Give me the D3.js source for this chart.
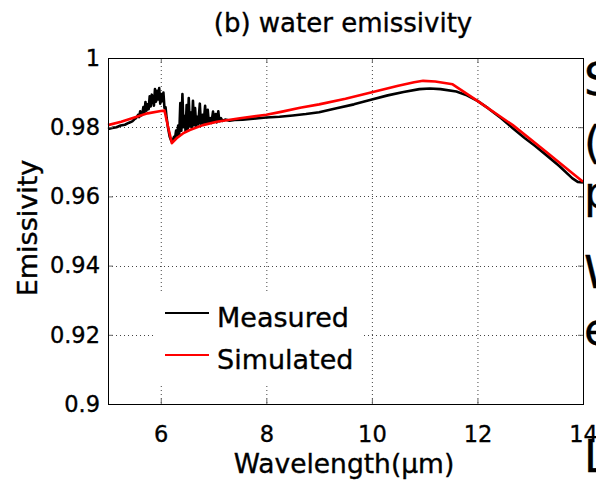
<!DOCTYPE html>
<head>
    <title>water emissivity</title>
    <script src="https://d3js.org/d3.v7.min.js"></script>
    <style>
        body { margin: 0; background: white; }
        text { font-family: "DejaVu Sans", "Liberation Sans", sans-serif; fill: black; stroke: black; stroke-width: 0.35px; }
        .grid line { stroke: #444; stroke-dasharray: 1,3; }
    </style>
</head>
<body>
<svg id="chart" width="596" height="491"></svg>
<script>
// measured spectrum: [wavelength (um), emissivity]
var measured = [
    [5.00,.9795],[5.08,.9798],[5.16,.9800],[5.24,.9805],[5.32,.9807],[5.40,.9813],[5.46,.9817],[5.50,.9823],
    [5.53,.9826],[5.55,.9830],[5.57,.9836],[5.59,.9829],[5.61,.9846],[5.63,.9834],[5.65,.9838],[5.67,.9858],
    [5.69,.9840],[5.71,.9873],[5.73,.9848],[5.75,.9866],[5.77,.9852],[5.79,.9889],[5.81,.9860],[5.83,.9894],
    [5.85,.9884],[5.87,.9862],[5.89,.9910],[5.91,.9874],[5.93,.9905],[5.95,.9880],[5.97,.9913],[5.99,.9868],
    [6.01,.9896],[6.03,.9875],[6.05,.9900],[6.07,.9856],[6.09,.9858],[6.11,.9828],[6.14,.9796],[6.17,.9772],
    [6.20,.9760],[6.23,.9764],[6.25,.9772],[6.27,.9768],[6.29,.9790],[6.31,.9776],[6.33,.9805],[6.35,.9778],
    [6.37,.9870],[6.39,.9790],[6.41,.9896],[6.43,.9800],[6.45,.9832],[6.47,.9788],[6.49,.9864],[6.51,.9796],
    [6.53,.9884],[6.55,.9802],[6.57,.9842],[6.59,.9798],[6.61,.9876],[6.63,.9806],[6.65,.9855],[6.67,.9804],
    [6.69,.9830],[6.71,.9808],[6.74,.9868],[6.76,.9810],[6.79,.9836],[6.81,.9808],[6.84,.9862],[6.86,.9812],
    [6.89,.9850],[6.91,.9813],[6.94,.9826],[6.96,.9812],[6.99,.9845],[7.01,.9815],[7.04,.9838],[7.06,.9814],
    [7.09,.9846],[7.11,.9817],[7.14,.9826],[7.17,.9818],[7.22,.9822],[7.30,.9819],[7.40,.9821],[7.55,.9822],
    [7.70,.9824],[7.85,.9826],[8.00,.9828],[8.25,.9830],[8.50,.9834],[8.75,.9838],[9.00,.9843],[9.33,.9855],
    [9.66,.9866],[10.00,.9880],[10.30,.9892],[10.60,.9902],[10.90,.9910],[11.10,.9912],[11.30,.9910],[11.60,.9903],
    [11.80,.9892],[12.00,.9876],[12.20,.9855],[12.45,.9826],[12.67,.9797],[12.90,.9768],[13.10,.9745],[13.30,.9720],
    [13.55,.9688],[13.80,.9652],[13.90,.9642],[14.00,.9640]
];

// simulated spectrum
var simulated = [
    [5.00,.9806],[5.25,.9816],[5.50,.9828],[5.75,.9840],[6.00,.9847],[6.07,.9848],[6.14,.9800],[6.21,.9754],
    [6.30,.9768],[6.42,.9782],[6.55,.9792],[6.80,.9806],[7.06,.9816],[7.50,.9826],[8.00,.9836],[8.30,.9845],
    [8.64,.9856],[9.00,.9866],[9.50,.9882],[10.00,.9901],[10.50,.9920],[10.80,.9930],[10.97,.9934],[11.20,.9932],
    [11.53,.9924],[12.00,.9876],[12.67,.9806],[13.30,.9729],[13.80,.9667],[14.00,.9642]
];

var xTicks = [6, 8, 10, 12, 14];
var yTicks = [0.9, 0.92, 0.94, 0.96, 0.98, 1];
var seriesNames = ["Measured", "Simulated"];
var seriesColors = ["black", "#ff0000"];

var svg = d3.select("#chart");
var pLeft = 108, pRight = 583, pTop = 58, pBottom = 404;

var x = d3.scaleLinear().domain([5, 14]).range([pLeft, pRight]);
var y = d3.scaleLinear().domain([0.9, 1]).range([pBottom, pTop]);

// dotted grid
var grid = svg.append("g").attr("class", "grid");
grid.selectAll(".gx").data(xTicks.slice(0, -1)).enter().append("line")
    .attr("x1", d => x(d) + 0.5).attr("x2", d => x(d) + 0.5)
    .attr("y1", pTop).attr("y2", pBottom);
grid.selectAll(".gy").data(yTicks.slice(1, -1)).enter().append("line")
    .attr("x1", pLeft).attr("x2", pRight)
    .attr("y1", d => Math.round(y(d)) + 0.5).attr("y2", d => Math.round(y(d)) + 0.5);

// lines
var line = d3.line().x(d => x(d[0])).y(d => y(d[1]));

svg.append("path").datum(measured)
    .attr("d", line).attr("fill", "none")
    .attr("stroke", seriesColors[0]).attr("stroke-width", 2.6)
    .attr("stroke-linejoin", "round");
svg.append("path").datum(simulated)
    .attr("d", line).attr("fill", "none")
    .attr("stroke", seriesColors[1]).attr("stroke-width", 2.6)
    .attr("stroke-linejoin", "round");

// axes (matlab style, ticks inside on all sides)
var tickLen = 5;
svg.append("g").attr("transform", "translate(0," + pBottom + ")")
    .call(d3.axisBottom(x).tickValues(xTicks).tickSize(-tickLen).tickPadding(22))
    .call(g => g.select(".domain").remove());
svg.append("g").attr("transform", "translate(0," + pTop + ")")
    .call(d3.axisTop(x).tickValues(xTicks).tickSize(-tickLen).tickFormat(""))
    .call(g => g.select(".domain").remove());
svg.append("g").attr("transform", "translate(" + pLeft + ",0)")
    .call(d3.axisLeft(y).tickValues(yTicks).tickSize(-tickLen).tickPadding(8).tickFormat(d3.format("")))
    .call(g => g.select(".domain").remove());
svg.append("g").attr("transform", "translate(" + pRight + ",0)")
    .call(d3.axisRight(y).tickValues(yTicks).tickSize(-tickLen).tickFormat(""))
    .call(g => g.select(".domain").remove());

svg.selectAll(".tick line").attr("stroke", "#666");
svg.selectAll(".tick text").attr("font-size", 22.5).attr("font-family", "DejaVu Sans")
    .attr("fill", "black");

svg.append("rect").attr("x", pLeft + 0.5).attr("y", pTop + 0.5)
    .attr("width", pRight - pLeft).attr("height", pBottom - pTop)
    .attr("fill", "none").attr("stroke", "black").attr("stroke-width", 1);

// legend
var lg = svg.append("g");
lg.append("rect").attr("x", 153).attr("y", 294).attr("width", 208).attr("height", 90).attr("fill", "white");
seriesNames.forEach(function (name, i) {
    var ly = 313 + i * 42;
    lg.append("line").attr("x1", 165).attr("x2", 209).attr("y1", ly).attr("y2", ly)
        .attr("stroke", seriesColors[i]).attr("stroke-width", 2);
    lg.append("text").attr("x", 217).attr("y", ly + 14).attr("font-size", 27).text(name);
});

// titles
svg.append("text").attr("x", 343).attr("y", 32).attr("text-anchor", "middle")
    .attr("font-size", 26).text("(b) water emissivity");
svg.append("text").attr("x", 344).attr("y", 473).attr("text-anchor", "middle")
    .attr("font-size", 26.5).text("Wavelength(\u03bcm)");
svg.append("text").attr("transform", "translate(37,228) rotate(-90)")
    .attr("text-anchor", "middle").attr("font-size", 27).text("Emissivity");

// neighbouring page text cut at the right edge
var sideText = [["S", 95], ["(", 158], ["p", 208], ["W", 288], ["e", 345], ["L", 472]];
sideText.forEach(function (t) {
    svg.append("text").attr("x", 584).attr("y", t[1]).attr("font-size", 44).attr("stroke-width", 0).text(t[0]);
});
</script>
</body>
